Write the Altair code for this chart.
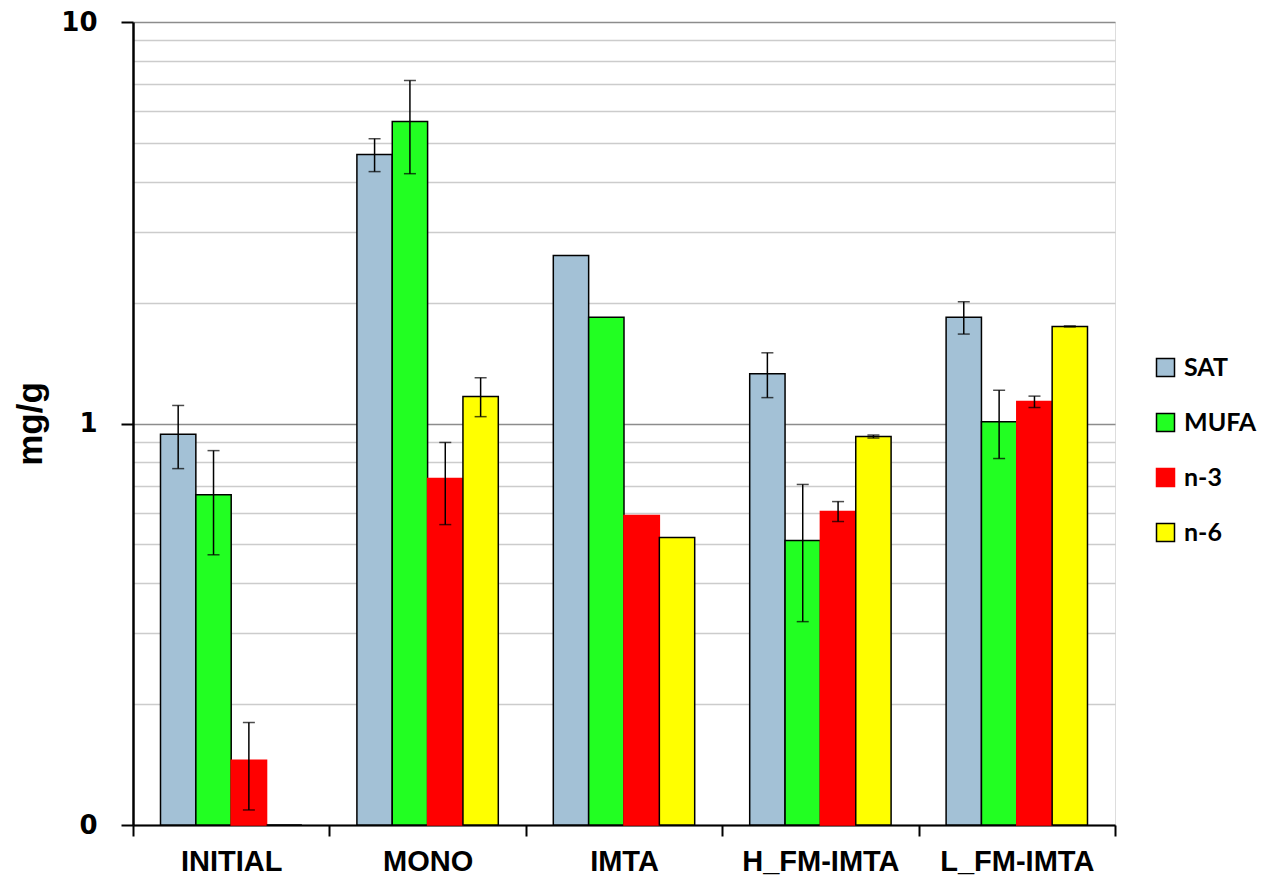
import altair as alt
import pandas as pd

cats = ["INITIAL", "MONO", "IMTA", "H_FM-IMTA", "L_FM-IMTA"]
series = ["SAT", "MUFA", "n-3", "n-6"]

sat = [0.94, 4.68, 2.62, 1.33, 1.84]
mufa = [0.665, 5.65, 1.84, 0.511, 1.01]
n3 = [0.145, 0.73, 0.59, 0.604, 1.134]
n6 = [0.1, 1.167, 0.52, 0.928, 1.745]

sat_lo = [0.772, 4.24, None, 1.16, 1.67]
sat_hi = [1.109, 5.12, None, 1.50, 2.01]
mufa_lo = [0.471, 4.19, None, 0.321, 0.818]
mufa_hi = [0.856, 7.15, None, 0.705, 1.21]
n3_lo = [0.109, 0.560, None, 0.570, 1.096]
n3_hi = [0.180, 0.897, None, 0.639, 1.17]
n6_lo = [None, 1.04, None, 0.92, 1.74]
n6_hi = [None, 1.30, None, 0.936, 1.75]

fills = ["#a3c1d6", "#22ff22", "#ff0000", "#ffff00"]
strokes = ["#000000", "#000000", "#ff0000", "#000000"]

y_ticks = [0.1, 0.2, 0.3, 0.4, 0.5, 0.6, 0.7, 0.8, 0.9,
           1, 2, 3, 4, 5, 6, 7, 8, 9, 10]

vals = [sat, mufa, n3, n6]
los = [sat_lo, mufa_lo, n3_lo, n6_lo]
his = [sat_hi, mufa_hi, n3_hi, n6_hi]
rows = []
for si, s in enumerate(series):
    for ci, c in enumerate(cats):
        rows.append({"cat": c, "series": s, "value": vals[si][ci],
                     "lo": los[si][ci], "hi": his[si][ci]})
df = pd.DataFrame(rows)

major = "datum.value == 1 || datum.value == 10 || datum.value == 0.1"

x_enc = alt.X("cat:N", sort=cats, title=None,
              scale=alt.Scale(paddingInner=0, paddingOuter=0),
              axis=alt.Axis(labelAngle=0, tickBand="extent", tickSize=11,
                            tickWidth=2, tickColor="black", domainColor="black",
                            domainWidth=2, labelFont="Liberation Sans",
                            labelFontWeight="bold", labelFontSize=29,
                            labelColor="black", labelPadding=11, grid=False))
xo_enc = alt.XOffset("series:N", sort=series,
                     scale=alt.Scale(paddingInner=0, paddingOuter=0.778))

y_scale = alt.Scale(type="log", domain=[0.1, 10])
y_axis = alt.Axis(
    values=y_ticks,
    labelExpr="datum.value == 10 ? '10' : datum.value == 1 ? '1' : datum.value == 0.1 ? '0' : ''",
    grid=True,
    gridColor={"condition": {"test": major, "value": "#8c8c8c"}, "value": "#cccccc"},
    gridWidth=1.5,
    tickOpacity={"condition": {"test": major, "value": 1}, "value": 0},
    tickSize=12, tickWidth=2, tickColor="black",
    domainColor="black", domainWidth=2.5,
    labelFont="DejaVu Sans", labelFontWeight="bold", labelFontSize=26,
    labelColor="black", labelPadding=24,
    title="mg/g", titleFont="Liberation Sans", titleFontWeight="bold",
    titleFontSize=35, titleColor="black", titlePadding=12,
    labelOverlap=False,
)

leg = alt.Legend(title=None, orient="none", legendX=1020, legendY=333,
                 symbolType="square", symbolSize=324, symbolStrokeWidth=1.5,
                 labelFont="Lato", labelFontWeight="bold", labelFontSize=25,
                 labelColor="black", labelOffset=6, rowPadding=29, padding=0)

bars = alt.Chart(df).mark_bar(strokeWidth=1.5).encode(
    x=x_enc,
    xOffset=xo_enc,
    y=alt.Y("value:Q", scale=y_scale, axis=y_axis),
    y2=alt.datum(0.1),
    fill=alt.Fill("series:N", sort=series,
                  scale=alt.Scale(domain=series, range=fills), legend=leg),
    stroke=alt.Stroke("series:N", sort=series,
                      scale=alt.Scale(domain=series, range=strokes), legend=leg),
)

err = alt.Chart(df).transform_filter("isValid(datum.lo)")
rules = err.mark_rule(color="black", strokeWidth=1.5).encode(
    x=alt.X("cat:N", sort=cats), xOffset=alt.XOffset("series:N", sort=series),
    y=alt.Y("lo:Q"), y2=alt.Y2("hi:Q"))
cap_lo = err.mark_tick(color="black", thickness=1.5, size=12).encode(
    x=alt.X("cat:N", sort=cats), xOffset=alt.XOffset("series:N", sort=series),
    y=alt.Y("lo:Q"))
cap_hi = err.mark_tick(color="black", thickness=1.5, size=12).encode(
    x=alt.X("cat:N", sort=cats), xOffset=alt.XOffset("series:N", sort=series),
    y=alt.Y("hi:Q"))

chart = alt.layer(bars, rules, cap_lo, cap_hi).properties(
    width=982, height=803,
    autosize=alt.AutoSizeParams(type="none"),
    padding={"left": 125, "top": 14, "right": 148, "bottom": 55},
).configure_view(stroke=None).configure(background="white")

chart.save("out.html", embed_options={"renderer": "svg", "actions": False})
